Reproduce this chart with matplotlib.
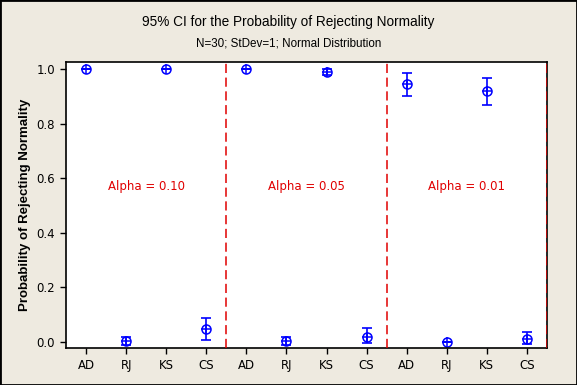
import numpy as np
import matplotlib
matplotlib.use('Agg')
import matplotlib.pyplot as plt
from matplotlib.patches import Rectangle

# tests repeated for each alpha level
tests = ['AD', 'RJ', 'KS', 'CS'] * 3
alpha_labels = ['Alpha = 0.10', 'Alpha = 0.05', 'Alpha = 0.01']

# estimated probability of rejecting normality and 95% CI limits
prob = [1.0, 0.0035, 1.0, 0.0467,
        1.0, 0.0035, 0.99, 0.02,
        0.944, 0.0, 0.918, 0.012]
lower = [1.0, -0.012, 1.0, 0.007,
         1.0, -0.012, 0.98, -0.005,
         0.900, 0.0, 0.867, -0.008]
upper = [1.0, 0.019, 1.0, 0.087,
         1.0, 0.019, 1.0, 0.050,
         0.984, 0.0, 0.966, 0.035]

bg = '#EEEAE0'
blue = '#0000FF'
red = '#E00000'
narrow = ['Liberation Sans', 'DejaVu Sans']

fig = plt.figure(figsize=(5.77, 3.85), dpi=100, facecolor=bg)
ax = fig.add_axes([66/577, 37/385, 481/577, 286/385])

x = np.arange(1, len(tests) + 1)
prob = np.array(prob)
yerr = [prob - np.array(lower), np.array(upper) - prob]
ax.errorbar(x, prob, yerr=yerr, fmt='none', ecolor=blue, elinewidth=1.2,
            capsize=3.5, capthick=1.2)
ax.plot(x, prob, 'o', ms=6.5, mfc='none', mec=blue, mew=1.1)
ax.plot(x, prob, '+', ms=6.5, color=blue, mew=1.1)

for b in [4.5, 8.5, 12.5]:
    ax.axvline(b, color=red, lw=1.1, ls=(0, (6, 3)), zorder=3)

for i, lab in enumerate(alpha_labels):
    ax.text(2.5 + 4 * i, 0.57, lab, color=red, fontsize=8.5,
            ha='center', va='center')

ax.set_xlim(0.5, 12.5)
ax.set_ylim(-0.022, 1.026)
ax.set_xticks(x)
ax.set_xticklabels(tests, fontsize=8.5)
ax.set_yticks([0.0, 0.2, 0.4, 0.6, 0.8, 1.0])
ax.set_yticklabels(['0.0', '0.2', '0.4', '0.6', '0.8', '1.0'], fontsize=8.5)
ax.tick_params(direction='out', length=4, width=1, pad=4)
for s in ax.spines.values():
    s.set_linewidth(1.2)
ax.set_ylabel('Probability of Rejecting Normality', fontsize=9.5,
              fontweight='bold', family=narrow, labelpad=4)

fig.text(0.5, 1 - 22/385, '95% CI for the Probability of Rejecting Normality',
         ha='center', va='center', fontsize=9.8, family=narrow)
fig.text(0.5, 1 - 43/385, 'N=30; StDev=1; Normal Distribution',
         ha='center', va='center', fontsize=8.4, family=narrow)

fig.patches.append(Rectangle((0, 0), 1, 1, transform=fig.transFigure,
                             fill=False, edgecolor='black', lw=2))

fig.savefig('out.png', dpi=100, facecolor=bg)
